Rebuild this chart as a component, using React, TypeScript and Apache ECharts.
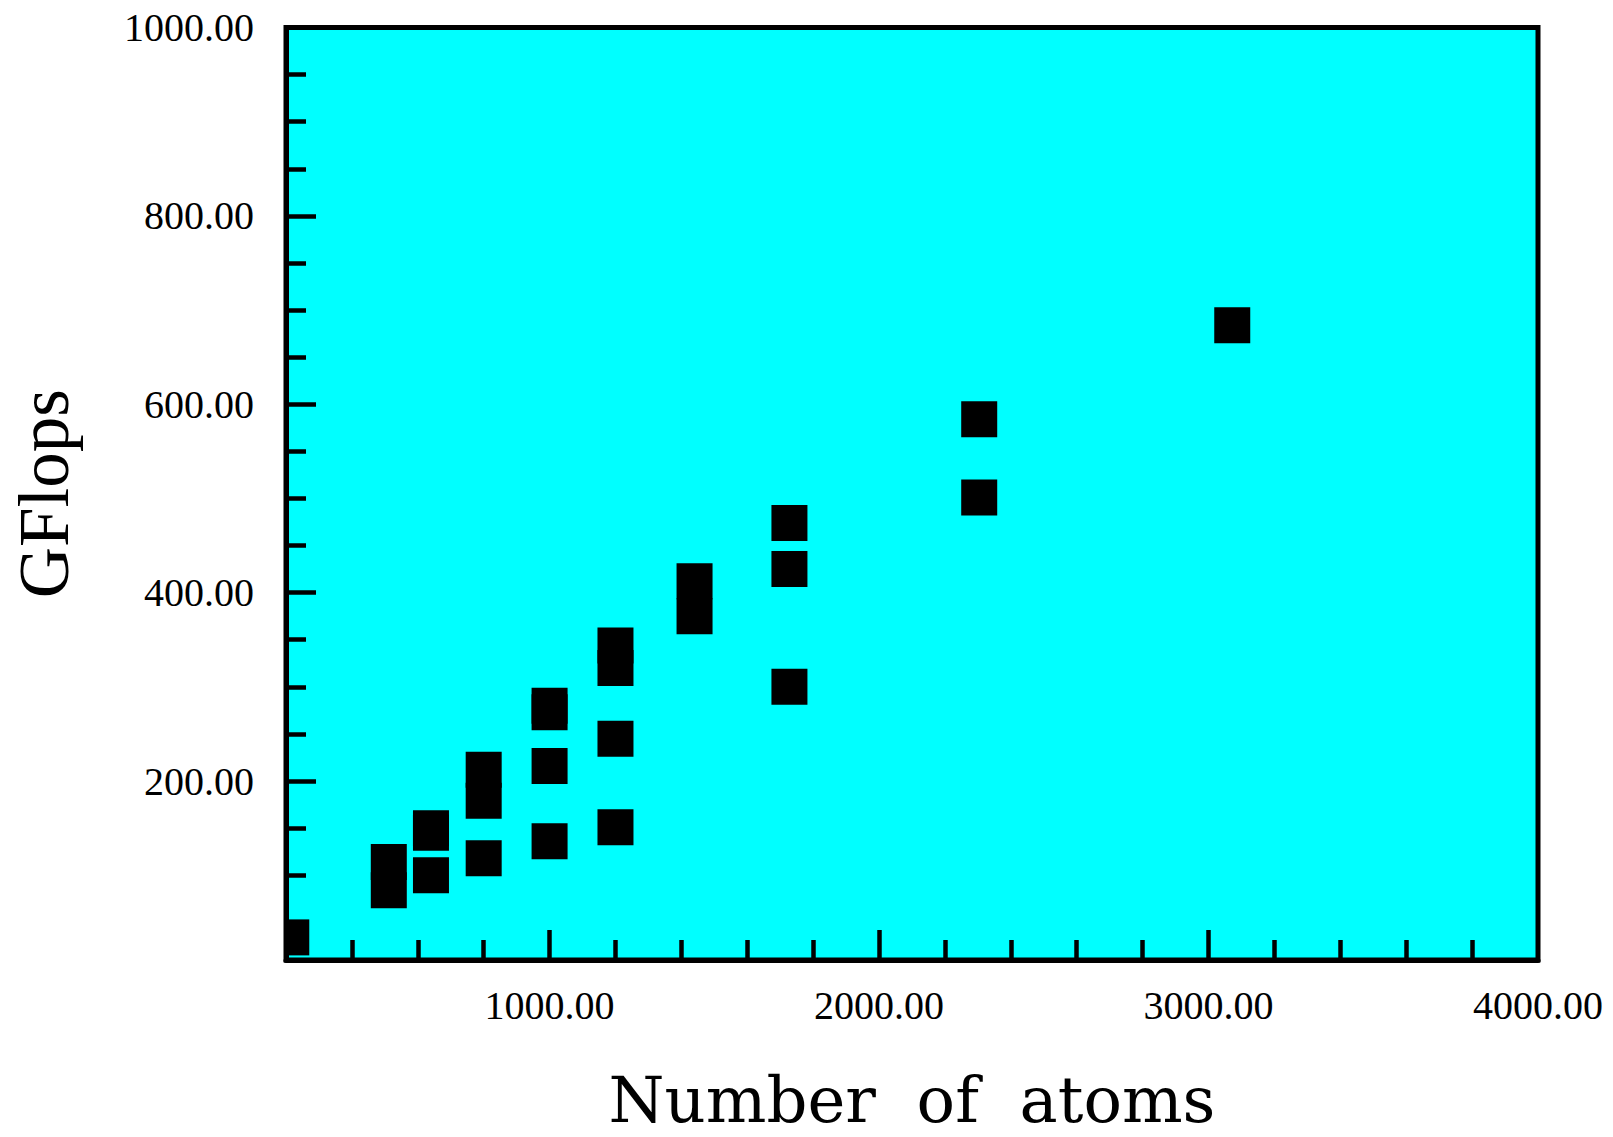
import React, { useEffect, useRef } from "react";
import * as echarts from "echarts";

// Data
const atomCounts = [216, 512, 512, 640, 640, 640, 800, 800, 800, 1000, 1000, 1000, 1000, 1200, 1200, 1200, 1200, 1440, 1440, 1728, 1728, 1728, 2304, 2304, 3072];
const gflops = [34, 114, 84, 150, 145, 100, 212, 179, 118, 280, 273, 216, 136, 344, 320, 245, 151, 412, 375, 474, 425, 300, 584, 501, 684];

// Axis ticks / labels
const xLabelValues = [1000, 2000, 3000, 4000];
const xMajorTicks = [1000, 2000, 3000];
const xMinorTicks = [400, 600, 800, 1200, 1400, 1600, 1800, 2200, 2400, 2600, 2800, 3200, 3400, 3600, 3800];
const yLabelValues = [200, 400, 600, 800, 1000];
const yMajorTicks = [200, 400, 600, 800];
const yMinorTicks = [50, 100, 150, 250, 300, 350, 450, 500, 550, 650, 700, 750, 850, 900, 950];

const X_MIN = 200;
const X_MAX = 4000;
const Y_MIN = 10;
const Y_MAX = 1000;
const MARK = 36;

export default function App() {
  const ref = useRef<HTMLDivElement>(null);
  useEffect(() => {
    if (!ref.current) return;
    const chart = echarts.init(ref.current, undefined, { renderer: "svg" });
    const labelFont = { fontFamily: "Liberation Serif", fontSize: 40, color: "#000" };
    const points = atomCounts.map((x, i) => [x, gflops[i]]);
    chart.setOption({
      animation: false,
      backgroundColor: "#ffffff",
      grid: {
        left: 284.5,
        top: 27.5,
        right: 75,
        bottom: 170,
        show: true,
        backgroundColor: "#00ffff",
        borderColor: "#000",
        borderWidth: 5,
      },
      xAxis: [
        {
          type: "value",
          min: X_MIN,
          max: X_MAX,
          name: "Number  of  atoms",
          nameLocation: "middle",
          nameGap: 108,
          nameTextStyle: { fontFamily: "DejaVu Serif", fontSize: 64, color: "#000" },
          axisLine: { show: true, lineStyle: { color: "#000", width: 5 } },
          splitLine: { show: false },
          axisTick: { show: true, inside: true, length: 20, customValues: xMinorTicks, lineStyle: { color: "#000", width: 4.5 } },
          axisLabel: { show: true, margin: 25, customValues: xLabelValues, formatter: (v: number) => v.toFixed(2), ...labelFont },
        },
        {
          type: "value",
          min: X_MIN,
          max: X_MAX,
          position: "bottom",
          axisLine: { show: false },
          splitLine: { show: false },
          axisTick: { show: true, inside: true, length: 30, customValues: xMajorTicks, lineStyle: { color: "#000", width: 4.5 } },
          axisLabel: { show: false },
        },
      ],
      yAxis: [
        {
          type: "value",
          min: Y_MIN,
          max: Y_MAX,
          name: "GFlops",
          nameLocation: "middle",
          nameGap: 207,
          nameTextStyle: { fontFamily: "Liberation Serif", fontSize: 71, color: "#000" },
          axisLine: { show: true, lineStyle: { color: "#000", width: 5 } },
          splitLine: { show: false },
          axisTick: { show: true, inside: true, length: 20, customValues: yMinorTicks, lineStyle: { color: "#000", width: 4.5 } },
          axisLabel: { show: true, margin: 32, customValues: yLabelValues, formatter: (v: number) => v.toFixed(2), ...labelFont },
        },
        {
          type: "value",
          min: Y_MIN,
          max: Y_MAX,
          position: "left",
          axisLine: { show: false },
          splitLine: { show: false },
          axisTick: { show: true, inside: true, length: 30, customValues: yMajorTicks, lineStyle: { color: "#000", width: 4.5 } },
          axisLabel: { show: false },
        },
      ],
      series: [
        {
          type: "custom",
          xAxisIndex: 0,
          yAxisIndex: 0,
          clip: true,
          data: points,
          renderItem: (params: any, api: any) => {
            const c = api.coord([api.value(0), api.value(1)]);
            const cs = params.coordSys;
            const shape = echarts.graphic.clipRectByRect(
              { x: c[0] - MARK / 2, y: c[1] - MARK / 2, width: MARK, height: MARK },
              { x: cs.x, y: cs.y, width: cs.width, height: cs.height }
            );
            if (!shape) return null;
            return { type: "rect", shape, style: { fill: "#000" } };
          },
        },
      ],
    });
    return () => chart.dispose();
  }, []);
  return <div ref={ref} style={{ position: "absolute", left: 0, top: 0, width: 1613, height: 1137 }} />;
}
